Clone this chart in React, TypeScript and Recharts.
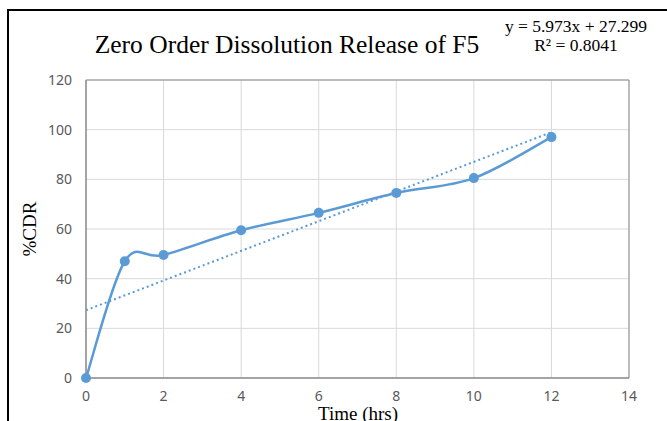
import React from 'react'
import {
  ComposedChart, Line, XAxis, YAxis, CartesianGrid, ReferenceArea,
} from 'recharts'

const times = [0, 1, 2, 4, 6, 8, 10, 12]
const cdr = [0, 47, 49.5, 59.5, 66.5, 74.5, 80.5, 97]
const xTicks = [0, 2, 4, 6, 8, 10, 12, 14]
const yTicks = [0, 20, 40, 60, 80, 100, 120]
const slope = 5.973
const intercept = 27.299
const trendX = [0, 12]

const data = times.map((t, i) => ({ t, cdr: cdr[i] }))
const trend = trendX.map((t) => ({ t, fit: slope * t + intercept }))

// excel-ish smoothed line (catmull-rom as bezier)
const smooth = (ctx: any) => {
  let pts: number[][] = []
  return {
    areaStart() {},
    areaEnd() {},
    lineStart() { pts = [] },
    point(x: number, y: number) { pts.push([+x, +y]) },
    lineEnd() {
      const n = pts.length
      if (!n) return
      ctx.moveTo(pts[0][0], pts[0][1])
      for (let i = 0; i < n - 1; i++) {
        const p0 = pts[i - 1] || pts[i]
        const p1 = pts[i]
        const p2 = pts[i + 1]
        const p3 = pts[i + 2] || pts[i + 1]
        ctx.bezierCurveTo(
          p1[0] + (p2[0] - p0[0]) / 6, p1[1] + (p2[1] - p0[1]) / 6,
          p2[0] - (p3[0] - p1[0]) / 6, p2[1] - (p3[1] - p1[1]) / 6,
          p2[0], p2[1],
        )
      }
    },
  }
}

const BLUE = '#5b9bd5'
const tickStyle = { fontFamily: '"Noto Sans", sans-serif', fontSize: 14, fill: '#595959' }
const serif = '"Liberation Serif", "Times New Roman", serif'

export default function App() {
  return (
    <div style={{ position: 'absolute', left: 0, top: 0, width: 667, height: 421, background: '#fff', overflow: 'hidden' }}>
      <ComposedChart
        width={667}
        height={421}
        margin={{ top: 80, right: 38, bottom: 13, left: 0 }}
        style={{ position: 'absolute', left: 0, top: 0 }}
      >
        <CartesianGrid stroke="#d9d9d9" strokeWidth={1} />
        <XAxis
          dataKey="t"
          type="number"
          domain={[0, 14]}
          ticks={xTicks}
          height={30}
          tickLine={false}
          axisLine={{ stroke: '#8c8c8c' }}
          tickSize={6}
          tickMargin={7}
          tick={tickStyle}
        />
        <YAxis
          type="number"
          domain={[0, 120]}
          ticks={yTicks}
          width={86}
          tickLine={false}
          axisLine={{ stroke: '#8c8c8c' }}
          tickSize={6}
          tickMargin={8}
          tick={tickStyle}
        />
        <ReferenceArea x1={0} x2={14} y1={0} y2={120} fill="none" stroke="#8c8c8c" strokeWidth={1} ifOverflow="visible" />
        <Line
          data={trend}
          dataKey="fit"
          type="linear"
          stroke={BLUE}
          strokeWidth={2}
          strokeDasharray="2 3"
          dot={false}
          activeDot={false}
          isAnimationActive={false}
        />
        <Line
          data={data}
          dataKey="cdr"
          type={smooth as any}
          stroke={BLUE}
          strokeWidth={2.5}
          dot={{ r: 5, fill: BLUE, stroke: BLUE, strokeWidth: 0 }}
          activeDot={false}
          isAnimationActive={false}
        />
      </ComposedChart>
      <div style={{ position: 'absolute', left: 7, top: 9, width: 670, height: 2, background: '#000' }} />
      <div style={{ position: 'absolute', left: 7, top: 9, width: 2, height: 420, background: '#000' }} />
      <div style={{ position: 'absolute', left: 87, top: 31, width: 400, textAlign: 'center', fontFamily: serif, fontSize: 25.5, lineHeight: '28px', color: '#000', whiteSpace: 'nowrap' }}>
        Zero Order Dissolution Release of F5
      </div>
      <div style={{ position: 'absolute', left: 476, top: 17, width: 200, textAlign: 'center', fontFamily: serif, fontSize: 17.5, lineHeight: '19px', color: '#000', whiteSpace: 'nowrap' }}>
        <div>y = 5.973x + 27.299</div>
        <div>R² = 0.8041</div>
      </div>
      <div style={{ position: 'absolute', left: 308, top: 404, width: 100, textAlign: 'center', fontFamily: serif, fontSize: 19, lineHeight: '20px', color: '#000', whiteSpace: 'nowrap' }}>
        Time (hrs)
      </div>
      <div style={{ position: 'absolute', left: -20, top: 218, width: 100, height: 22, textAlign: 'center', fontFamily: serif, fontSize: 19, lineHeight: '22px', color: '#000', whiteSpace: 'nowrap', transform: 'rotate(-90deg)' }}>
        %CDR
      </div>
    </div>
  )
}
